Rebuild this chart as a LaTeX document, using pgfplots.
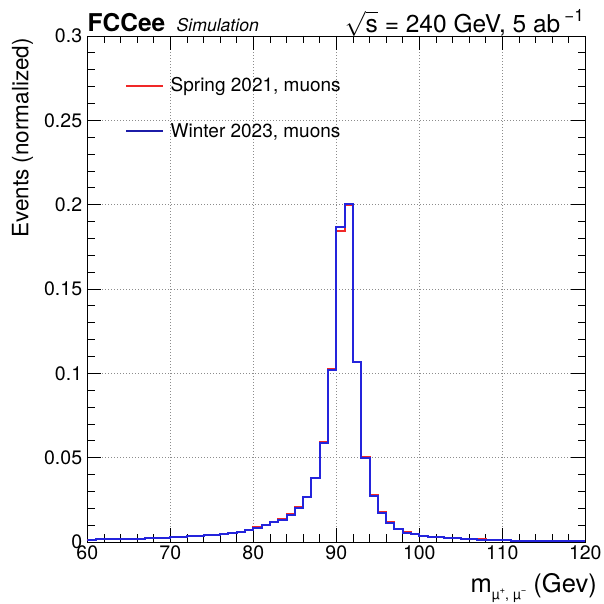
\documentclass[border=0pt]{standalone}
\usepackage{fontspec}
\setmainfont{TeX Gyre Heros}
\usepackage{pgfplots}
\pgfplotsset{compat=1.18}
\usepackage{pgfplotstable}
\definecolor{histred}{HTML}{F02828}
\definecolor{histblue}{HTML}{2424DC}
\definecolor{legblue}{HTML}{1C1CA8}
\definecolor{gridgray}{HTML}{8C8C8C}

% bin left edge, normalized events (1 GeV bins); last row closes the final bin
\pgfplotstableread{
x y
60 0.0014
61 0.0015
62 0.0015
63 0.0016
64 0.0017
65 0.0019
66 0.0020
67 0.0021
68 0.0023
69 0.0025
70 0.0028
71 0.0030
72 0.0033
73 0.0036
74 0.0040
75 0.0043
76 0.0048
77 0.0054
78 0.0062
79 0.0073
80 0.0087
81 0.0101
82 0.0119
83 0.0136
84 0.0168
85 0.0206
86 0.0268
87 0.0382
88 0.0590
89 0.1025
90 0.1845
91 0.2000
92 0.1068
93 0.0502
94 0.0277
95 0.0176
96 0.0117
97 0.0078
98 0.0058
99 0.0047
100 0.0038
101 0.0032
102 0.0027
103 0.0024
104 0.0021
105 0.0018
106 0.0016
107 0.0015
108 0.0012
109 0.0012
110 0.0009
111 0.0008
112 0.0007
113 0.0006
114 0.0006
115 0.0005
116 0.0004
117 0.0004
118 0.0003
119 0.0003
120 0.0003
}\springtab

\pgfplotstableread{
x y
60 0.0014
61 0.0015
62 0.0015
63 0.0016
64 0.0017
65 0.0018
66 0.0019
67 0.0021
68 0.0023
69 0.0025
70 0.0028
71 0.0030
72 0.0033
73 0.0036
74 0.0039
75 0.0043
76 0.0048
77 0.0054
78 0.0061
79 0.0071
80 0.0085
81 0.0099
82 0.0118
83 0.0133
84 0.0162
85 0.0200
86 0.0266
87 0.0380
88 0.0584
89 0.1020
90 0.1865
91 0.2005
92 0.1070
93 0.0500
94 0.0275
95 0.0174
96 0.0115
97 0.0077
98 0.0056
99 0.0046
100 0.0037
101 0.0031
102 0.0027
103 0.0024
104 0.0021
105 0.0018
106 0.0016
107 0.0014
108 0.0012
109 0.0011
110 0.0009
111 0.0008
112 0.0007
113 0.0006
114 0.0006
115 0.0005
116 0.0004
117 0.0004
118 0.0003
119 0.0003
120 0.0003
}\wintertab

\begin{document}
\begin{tikzpicture}
\begin{axis}[
    at={(87.3pt,62pt)}, anchor=south west,
    scale only axis, width=498pt, height=506pt,
    xmin=60, xmax=120, ymin=0, ymax=0.3,
    xtick={60,70,80,90,100,110,120},
    ytick={0,0.05,0.1,0.15,0.2,0.25,0.3},
    yticklabels={0,0.05,0.1,0.15,0.2,0.25,0.3},
    minor x tick num=4, minor y tick num=4,
    xtick pos=both, ytick pos=both,
    xticklabel pos=lower, yticklabel pos=left,
    tick align=inside, major tick length=14pt, minor tick length=7.5pt,
    grid=major,
    grid style={gridgray, line width=0.6pt, dash pattern=on 1pt off 2pt},
    axis line style={black, line width=0.8pt},
    every tick/.style={black, line width=0.8pt},
    ticklabel style={font=\fontsize{19.5}{20}\selectfont},
    /pgf/number format/assume math mode=true,
    xticklabel style={inner sep=0pt, yshift=-3pt, anchor=north},
    yticklabel style={inner sep=0pt, xshift=-5pt, anchor=east},
]
\addplot[const plot, draw=histred, line width=2pt] table[x=x, y=y] {\springtab};
\addplot[const plot, draw=histblue, line width=2pt] table[x=x, y=y] {\wintertab};
\end{axis}

% legend, drawn by hand in the ROOT style (no frame)
\path[draw=white, line width=0pt] (0pt,0pt) -- (0pt,0pt);
\draw[histred, line width=1.4pt] (126pt,518pt) -- (163pt,518pt);
\draw[legblue, line width=1.2pt] (126pt,473pt) -- (163pt,473pt);
\node[anchor=base west, inner sep=0pt, font=\fontsize{19}{20}\selectfont] at (170.5pt,512.3pt) {Spring 2021, muons};
\node[anchor=base west, inner sep=0pt, font=\fontsize{19}{20}\selectfont] at (170.5pt,466.7pt) {Winter 2023, muons};

\node[anchor=base west, inner sep=0pt, font=\fontsize{24.5}{25}\selectfont\bfseries] at (87.5pt,572pt) {FCCee};
\node[anchor=base west, inner sep=0pt, font=\fontsize{17.6}{18}\selectfont\itshape] at (176.5pt,572pt) {Simulation};
\node[anchor=base east, inner sep=0pt, font=\fontsize{24.5}{25}\selectfont] at (584pt,571pt)
    {$\sqrt{\mbox{s\vphantom{t}}}$ = 240 GeV, 5 ab\,\raisebox{0.45em}{\fontsize{17}{17}\selectfont −1}};
\node[rotate=90, anchor=base east, inner sep=0pt, font=\fontsize{22.5}{23}\selectfont] at (28.5pt,566pt) {Events (normalized)};
\node[anchor=base east, inner sep=0pt, font=\fontsize{25.5}{26}\selectfont] at (597pt,12pt)
    {m\raisebox{-0.3em}{\fontsize{14}{14}\selectfont µ\raisebox{0.45em}{\fontsize{9.5}{9.5}\selectfont +}, µ\raisebox{0.45em}{\fontsize{9.5}{9.5}\selectfont −}} (Gev)};

\pgfresetboundingbox
\path (0,0) rectangle (603pt,604pt);
\end{tikzpicture}
\end{document}
